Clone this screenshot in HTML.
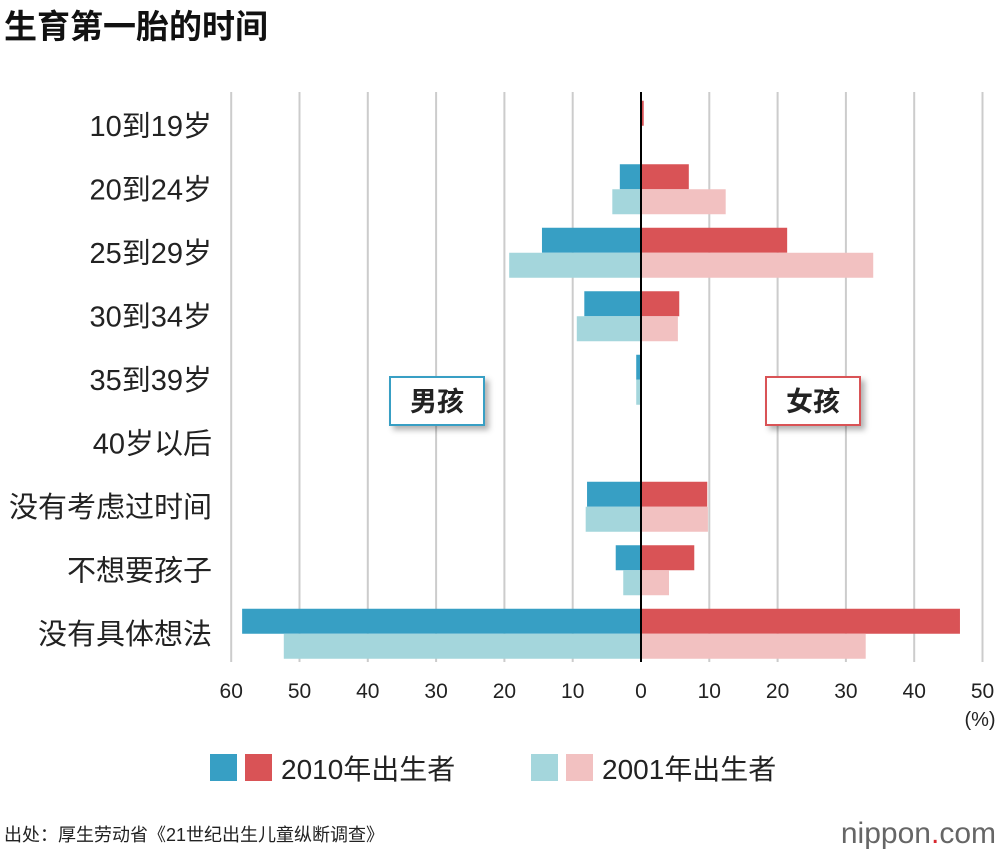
<!DOCTYPE html>
<html><head><meta charset="utf-8"><style>
body{margin:0;background:#fff;width:1000px;height:856px;overflow:hidden;font-family:"Liberation Sans","Noto Sans CJK SC",sans-serif}
svg text{font-family:"Liberation Sans","Noto Sans CJK SC",sans-serif}
</style></head><body>
<svg id="chart" width="1000" height="856" xmlns="http://www.w3.org/2000/svg">
<defs><filter id="sh" x="-20%" y="-20%" width="150%" height="150%"><feDropShadow dx="4" dy="4" stdDeviation="3" flood-color="#000" flood-opacity="0.3"/></filter></defs>
<text x="4" y="38" font-size="33" font-weight="bold" fill="#111">生育第一胎的时间</text>
<g id="grid"></g><g id="bars"></g><g id="labels"></g>
<line x1="641" y1="92" x2="641" y2="662" stroke="#000" stroke-width="2"/>
<g><rect x="390" y="377" width="94" height="48" fill="#fff" stroke="#379fc4" stroke-width="2" filter="url(#sh)"/><text x="437" y="411" font-size="27" font-weight="bold" text-anchor="middle" fill="#222">男孩</text></g>
<g><rect x="766" y="377" width="94" height="48" fill="#fff" stroke="#d95356" stroke-width="2" filter="url(#sh)"/><text x="813" y="411" font-size="27" font-weight="bold" text-anchor="middle" fill="#222">女孩</text></g>
<text x="980" y="726" font-size="20" text-anchor="middle" fill="#222">(%)</text>
<g><rect x="210" y="754" width="27" height="27" fill="#379fc4"/><rect x="245" y="754" width="27" height="27" fill="#d95356"/><text x="281" y="779" font-size="28" fill="#222">2010年出生者</text></g>
<g><rect x="531" y="754" width="27" height="27" fill="#a4d6dc"/><rect x="566" y="754" width="27" height="27" fill="#f2c1c1"/><text x="602" y="779" font-size="28" fill="#222">2001年出生者</text></g>
<text x="4" y="841" font-size="18" fill="#222">出处：厚生劳动省《21世纪出生儿童纵断调查》</text>
<text x="996" y="843" font-size="30" text-anchor="end" fill="#666">nippon<tspan fill="#d7282f">.</tspan>com</text>
</svg>
<script>
const categories=["10到19岁","20到24岁","25到29岁","30到34岁","35到39岁","40岁以后","没有考虑过时间","不想要孩子","没有具体想法"];
const boys2010=[0,3.1,14.5,8.3,0.7,0,7.9,3.7,58.4];
const boys2001=[0,4.2,19.3,9.4,0.7,0,8.1,2.6,52.3];
const girls2010=[0.4,7.0,21.4,5.6,0,0,9.7,7.8,46.7];
const girls2001=[0,12.4,34.0,5.4,0,0,9.8,4.1,32.9];
const leftTicks=[60,50,40,30,20,10];
const rightTicks=[0,10,20,30,40,50];
const NS="http://www.w3.org/2000/svg";
const x0=641,pu=6.83,rowTop=94,rowH=63.5,barH=25;
const xR=v=>x0+v*pu, xL=v=>x0-v*pu;
const rowC=i=>rowTop+rowH*i+rowH/2;
function mk(t,a,p){const e=document.createElementNS(NS,t);for(const k in a)e.setAttribute(k,a[k]);p.appendChild(e);return e;}
const grid=document.getElementById('grid'),bars=document.getElementById('bars'),labels=document.getElementById('labels');
function tick(xp,v){
 const l=mk('line',{x1:xp,x2:xp,y1:92,y2:662,stroke:'#ccc','stroke-width':2},grid);
 
 
 const t=mk('text',{x:xp,y:698,'font-size':21,'text-anchor':'middle',fill:'#222'},labels);
 t.textContent=v;
 
 
}
leftTicks.forEach(v=>tick(xL(v),v));
rightTicks.forEach(v=>tick(xR(v),v));
function bar(x,y,w,c,name){const r=mk('rect',{x:x,y:y,width:Math.max(w,0),height:barH,fill:c},bars);
 
 }
categories.forEach((c,i)=>{
 const cy=rowC(i);
 bar(xL(boys2010[i]),cy-barH,boys2010[i]*pu,'#379fc4','bar-boys-2010');
 bar(xL(boys2001[i]),cy,boys2001[i]*pu,'#a4d6dc','bar-boys-2001');
 bar(x0,cy-barH,girls2010[i]*pu,'#d95356','bar-girls-2010');
 bar(x0,cy,girls2001[i]*pu,'#f2c1c1','bar-girls-2001');
 const t=mk('text',{x:212,y:cy+10,'font-size':29,'text-anchor':'end',fill:'#222'},labels);
 t.textContent=c;
 
 
});
</script>
</body></html>
